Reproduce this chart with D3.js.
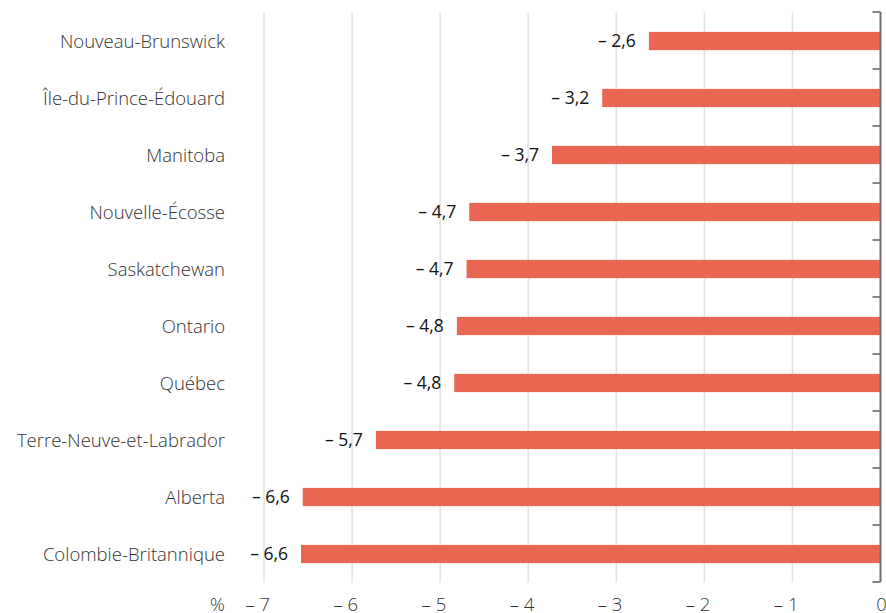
<!DOCTYPE html>
<html>
<head>
<meta charset="utf-8">
<script src="https://cdn.jsdelivr.net/npm/d3@7"></script>
<style>
    body { margin: 0; background: #fff; }
    #chart { width: 886px; height: 613px; }
    text { font-family: "Open Sans", sans-serif; }
</style>
</head>
<body>
<div id="chart"></div>
<script>
// provinces, top to bottom
const provinces = ["Nouveau-Brunswick", "Île-du-Prince-Édouard", "Manitoba", "Nouvelle-Écosse",
    "Saskatchewan", "Ontario", "Québec", "Terre-Neuve-et-Labrador", "Alberta", "Colombie-Britannique"];
// variation (%)
const values = [-2.63, -3.16, -3.73, -4.67, -4.70, -4.81, -4.84, -5.73, -6.56, -6.58];
const xTicks = [-7, -6, -5, -4, -3, -2, -1, 0];
const unitLabel = "%";

function BarChart() {

    let self = this;

    self.initialize = function(conf) {
        self.el = document.getElementById(conf.el);
        self.graphWidth = 886;
        self.graphHeight = 613;
        self.margin = {top: 12.5, right: 5, bottom: 30.5, left: 264};
        self.width = self.graphWidth - self.margin.left - self.margin.right;
        self.height = self.graphHeight - self.margin.top - self.margin.bottom;
        self.labelSize = 18.5;
        self.graphData = provinces.map((p, i) => ({key: p, value: values[i]}));

        self.xScale = d3.scaleLinear().domain([-7, 0]).range([0, self.width - 0.5]);
        self.yScale = d3.scaleBand().domain(provinces).range([0, self.height]).paddingInner(0.68).paddingOuter(0.34);
        self.render();
    }

    self.render = function() {
        self.svg = d3.select(self.el).append("svg")
                    .attr("width", self.graphWidth)
                    .attr("height", self.graphHeight)
                    .append("g")
                    .attr("transform", "translate(" + self.margin.left + "," + self.margin.top + ")");

        let fmt = v => "\u2013 " + d3.format(".1f")(Math.abs(v)).replace(".", ",");

        /*  vertical grid  */
        self.svg.selectAll(".grid")
            .data(xTicks.filter(d => d !== 0))
            .enter().append("line")
            .attr("x1", d => self.xScale(d)).attr("x2", d => self.xScale(d))
            .attr("y1", 0).attr("y2", self.height)
            .attr("stroke", "#e2e2e2").attr("stroke-width", 1.5);

        /*  x axis labels  */
        let xAxis = self.svg.append("g")
            .attr("transform", "translate(0," + self.height + ")")
            .call(d3.axisBottom(self.xScale).tickValues(xTicks).tickSize(0).tickPadding(0)
                .tickFormat(d => d === 0 ? "0" : "\u2013 " + Math.abs(d)));
        xAxis.select(".domain").remove();
        xAxis.selectAll("text")
            .attr("y", 28).attr("dy", null)
            .attr("font-size", self.labelSize).attr("font-weight", 300).attr("fill", "#333")
            .attr("font-family", "Open Sans")
            .attr("text-anchor", d => d === 0 ? "middle" : "end")
            .attr("dx", d => d === 0 ? "0.03em" : "0.3em");
        self.svg.append("text")
            .attr("x", -39).attr("y", self.height + 28)
            .attr("text-anchor", "end")
            .attr("font-size", self.labelSize).attr("font-weight", 300).attr("fill", "#333")
            .text(unitLabel);

        /*  bars  */
        self.svg.selectAll(".bar")
            .data(self.graphData)
            .enter().append("rect")
            .attr("x", d => self.xScale(d.value))
            .attr("y", d => self.yScale(d.key))
            .attr("width", d => self.xScale(0) - self.xScale(d.value))
            .attr("height", self.yScale.bandwidth())
            .attr("fill", "#e96752");

        /*  value labels  */
        self.svg.selectAll(".val")
            .data(self.graphData)
            .enter().append("text")
            .attr("x", d => self.xScale(d.value) - 13)
            .attr("y", d => self.yScale(d.key) + self.yScale.bandwidth() / 2)
            .attr("dy", "0.36em")
            .attr("text-anchor", "end")
            .attr("font-size", 17.5).attr("fill", "#111")
            .text(d => fmt(d.value));

        /*  category labels  */
        self.svg.selectAll(".cat")
            .data(self.graphData)
            .enter().append("text")
            .attr("x", -39)
            .attr("y", d => self.yScale(d.key) + self.yScale.bandwidth() / 2)
            .attr("dy", "0.36em")
            .attr("text-anchor", "end")
            .attr("font-size", self.labelSize).attr("font-weight", 300).attr("fill", "#333")
            .text(d => d.key);

        /*  zero line with ticks between bars  */
        let x0 = self.xScale(0);
        let step = self.yScale.step();
        let bounds = d3.range(provinces.length + 1).map(i => i * step - 0.5);
        self.svg.selectAll(".tk")
            .data(bounds)
            .enter().append("line")
            .attr("x1", x0 - 8).attr("x2", x0)
            .attr("y1", d => d).attr("y2", d => d)
            .attr("stroke", "#333").attr("stroke-width", 1.2);
        self.svg.append("line")
            .attr("x1", x0).attr("x2", x0)
            .attr("y1", -0.5).attr("y2", self.height - 0.5)
            .attr("stroke", "#707070").attr("stroke-width", 2);
    }
}

let chart = new BarChart();
chart.initialize({el: "chart"});
</script>
</body>
</html>
